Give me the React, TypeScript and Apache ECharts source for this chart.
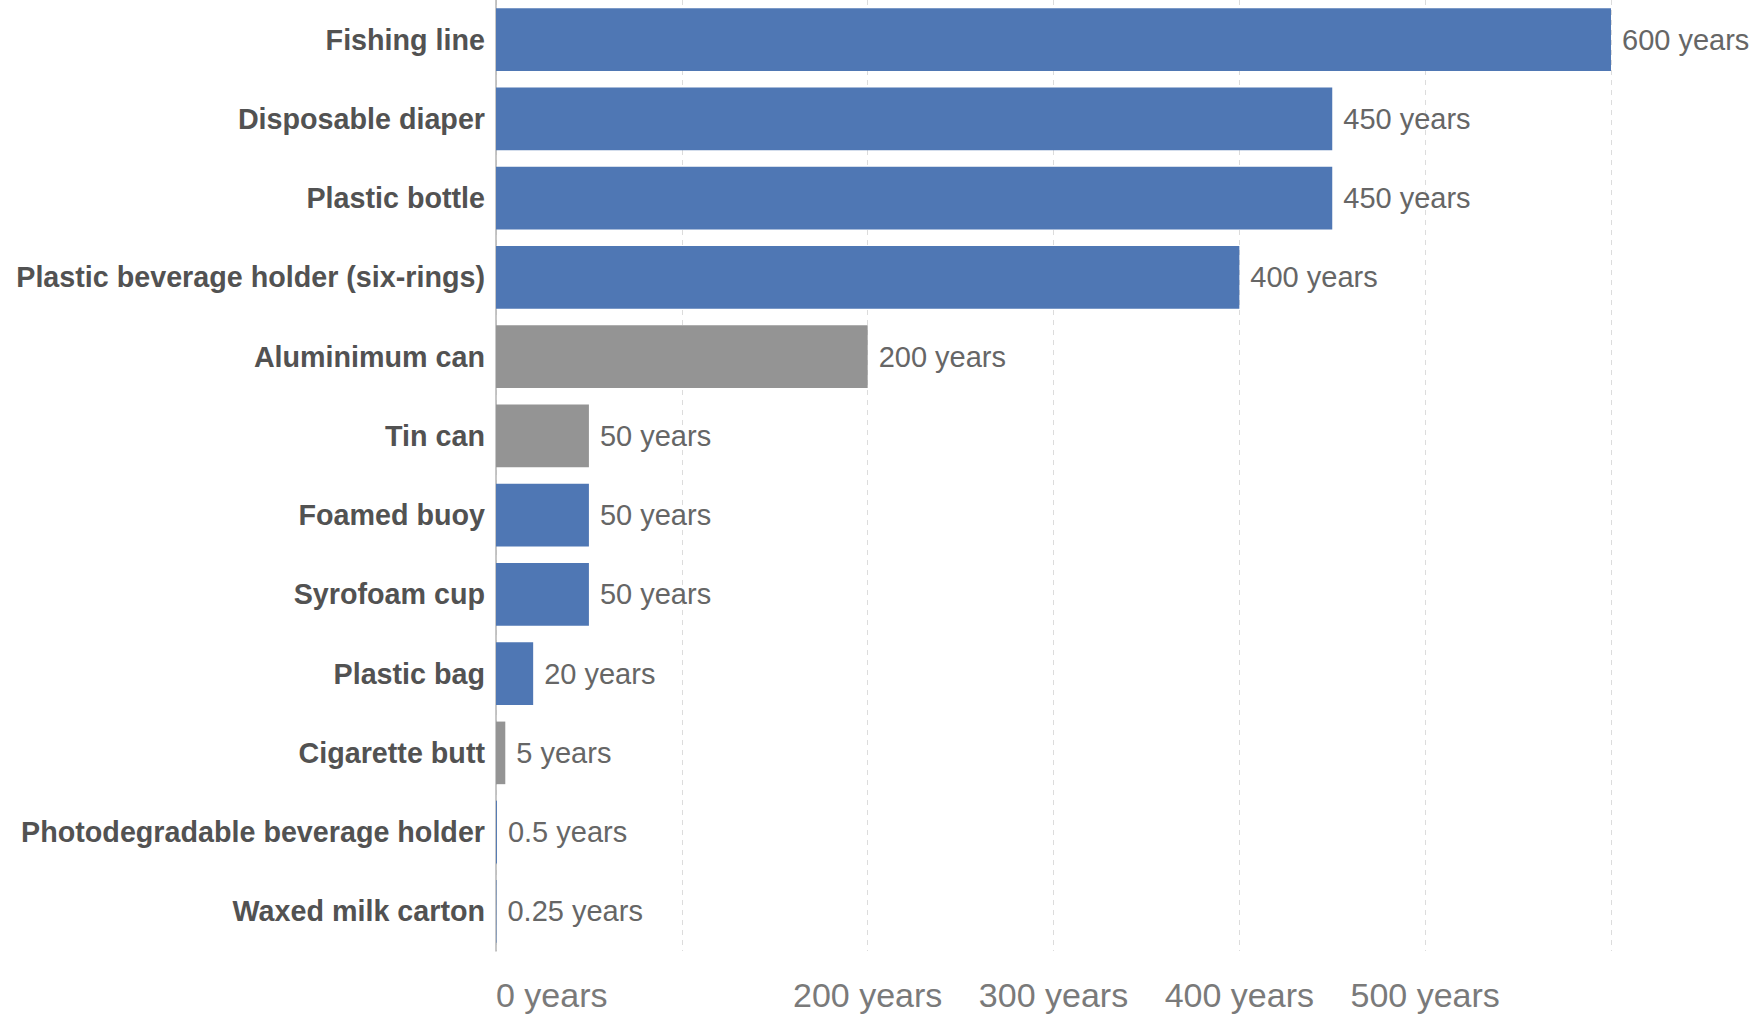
import React, { useEffect, useRef } from "react";
import * as echarts from "echarts";

const categories = [
  "Fishing line",
  "Disposable diaper",
  "Plastic bottle",
  "Plastic beverage holder (six-rings)",
  "Aluminimum can",
  "Tin can",
  "Foamed buoy",
  "Syrofoam cup",
  "Plastic bag",
  "Cigarette butt",
  "Photodegradable beverage holder",
  "Waxed milk carton",
];
const years = [600, 450, 450, 400, 200, 50, 50, 50, 20, 5, 0.5, 0.25];
const materialGroup = [
  "plastic",
  "plastic",
  "plastic",
  "plastic",
  "metal",
  "metal",
  "plastic",
  "plastic",
  "plastic",
  "other",
  "plastic",
  "plastic",
];
const groupColors: Record<string, string> = {
  plastic: "#4f77b4",
  metal: "#949494",
  other: "#949494",
};
const xTickValues = [0, 100, 200, 300, 400, 500, 600];
const shownTickLabels = [0, 200, 300, 400, 500];

const FONT = "'Liberation Sans', Arial, Helvetica, sans-serif";

export default function App() {
  const ref = useRef<HTMLDivElement>(null);
  useEffect(() => {
    if (!ref.current) return;
    const chart = echarts.init(ref.current, undefined, { renderer: "svg" });
    chart.setOption({
      animation: false,
      backgroundColor: "#ffffff",
      grid: { left: 496, right: 149, top: 0, bottom: 64, containLabel: false },
      xAxis: {
        type: "value",
        min: xTickValues[0],
        max: xTickValues[xTickValues.length - 1],
        interval: xTickValues[1] - xTickValues[0],
        axisLine: { show: false },
        axisTick: { show: false },
        splitLine: { show: true, lineStyle: { color: "#dcdcdc", type: [5, 5], width: 1 } },
        axisLabel: {
          show: true,
          color: "#7a7a7a",
          fontFamily: FONT,
          fontSize: 34,
          margin: 27,
          alignMinLabel: "left",
          hideOverlap: false,
          formatter: (v: number) => (shownTickLabels.includes(v) ? `${v} years` : ""),
        },
      },
      yAxis: {
        type: "category",
        data: categories,
        inverse: true,
        axisLine: { show: true, lineStyle: { color: "#b4b4b4", width: 1.5 } },
        axisTick: { show: false },
        splitLine: { show: false },
        axisLabel: {
          color: "#525252",
          fontFamily: FONT,
          fontWeight: "bold",
          fontSize: 28.7,
          margin: 11,
        },
      },
      series: [
        {
          type: "bar",
          barCategoryGap: "21%",
          data: years.map((v, i) => ({
            value: v,
            itemStyle: { color: groupColors[materialGroup[i]] },
          })),
          label: {
            show: true,
            position: "right",
            distance: 11,
            color: "#666666",
            fontFamily: FONT,
            fontSize: 29,
            formatter: (p: any) => `${p.value} years`,
          },
        },
      ],
    });
    return () => chart.dispose();
  }, []);
  return (
    <div
      ref={ref}
      style={{ position: "absolute", left: 0, top: 0, width: 1760, height: 1015 }}
    />
  );
}
